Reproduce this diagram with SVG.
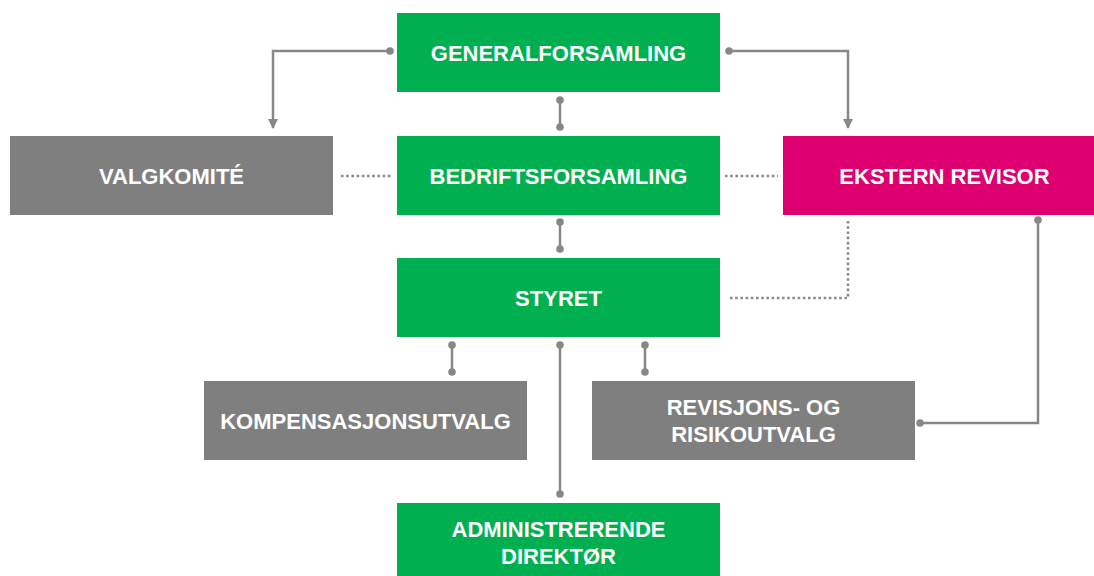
<svg xmlns="http://www.w3.org/2000/svg" width="1094" height="576" viewBox="0 0 1094 576">
<style>
.g{fill:#00B050}
.k{fill:#7F7F7F}
.m{fill:#DE0070}
.t{fill:#fff;font-family:"Liberation Sans",Arial,sans-serif;font-weight:bold;font-size:22px;text-anchor:middle}
.c{fill:none;stroke:#878787;stroke-width:2.5}
.d{fill:none;stroke:#8C8C8C;stroke-width:2.6;stroke-dasharray:2.6 2.6}
.dot{fill:#878787}
</style>
<defs>
<marker id="arr" viewBox="0 0 10 10" refX="9" refY="5" markerWidth="10" markerHeight="10" markerUnits="userSpaceOnUse" orient="auto">
<path d="M0,0 L10,5 L0,10 z" fill="#878787"/>
</marker>
</defs>
<rect width="1094" height="576" fill="#fff"/>
<g id="connectors">
<path class="c" d="M390,51 H273 V128" marker-end="url(#arr)"/>
<circle class="dot" cx="390" cy="51" r="3.8"/>
<path class="c" d="M729,51 H848 V128" marker-end="url(#arr)"/>
<circle class="dot" cx="729" cy="51" r="3.8"/>
<path class="c" d="M560,100 V127"/>
<circle class="dot" cx="560" cy="100" r="3.8"/>
<circle class="dot" cx="560" cy="127" r="3.8"/>
<path class="c" d="M560,222 V249"/>
<circle class="dot" cx="560" cy="222" r="3.8"/>
<circle class="dot" cx="560" cy="249" r="3.8"/>
<path class="d" d="M341,176 H393"/>
<path class="d" d="M725,176 H778"/>
<path class="d" d="M730,298 H848 V219"/>
<path class="c" d="M1038,220 V423 H920"/>
<circle class="dot" cx="1038" cy="220" r="3.8"/>
<circle class="dot" cx="920" cy="423" r="3.8"/>
<path class="c" d="M452,345 V372"/>
<circle class="dot" cx="452" cy="345" r="3.8"/>
<circle class="dot" cx="452" cy="372" r="3.8"/>
<path class="c" d="M645,345 V372"/>
<circle class="dot" cx="645" cy="345" r="3.8"/>
<circle class="dot" cx="645" cy="372" r="3.8"/>
<path class="c" d="M560,345 V494"/>
<circle class="dot" cx="560" cy="345" r="3.8"/>
<circle class="dot" cx="560" cy="494" r="3.8"/>
</g>
<g id="generalforsamling">
<rect class="g" x="397" y="13" width="323" height="79"/>
<text class="t" x="558.5" y="61">GENERALFORSAMLING</text>
</g>
<g id="valgkomite">
<rect class="k" x="10" y="136" width="323" height="79"/>
<text class="t" x="171.5" y="184">VALGKOMITÉ</text>
</g>
<g id="bedriftsforsamling">
<rect class="g" x="397" y="136" width="323" height="79"/>
<text class="t" x="558.5" y="184">BEDRIFTSFORSAMLING</text>
</g>
<g id="ekstern-revisor">
<rect class="m" x="783" y="136" width="323" height="79"/>
<text class="t" x="944.5" y="184">EKSTERN REVISOR</text>
</g>
<g id="styret">
<rect class="g" x="397" y="258" width="323" height="79"/>
<text class="t" x="558.5" y="306">STYRET</text>
</g>
<g id="kompensasjonsutvalg">
<rect class="k" x="204" y="381" width="323" height="79"/>
<text class="t" x="365.5" y="429">KOMPENSASJONSUTVALG</text>
</g>
<g id="revisjonsutvalg">
<rect class="k" x="592" y="381" width="323" height="79"/>
<text class="t" x="753.5" y="415">REVISJONS- OG</text>
<text class="t" x="753.5" y="442">RISIKOUTVALG</text>
</g>
<g id="administrerende-direktor">
<rect class="g" x="397" y="503" width="323" height="79"/>
<text class="t" x="558.5" y="537">ADMINISTRERENDE</text>
<text class="t" x="558.5" y="564">DIREKTØR</text>
</g>
</svg>
